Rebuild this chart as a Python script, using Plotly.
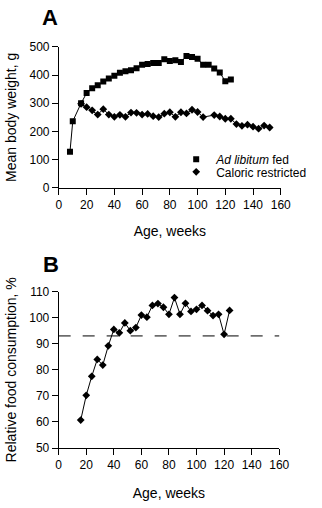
import plotly.graph_objects as go

# Panel A: mean body weight (g) by age (weeks)
adlib_weeks = [8, 10, 16, 20, 24, 28, 32, 36, 40, 44, 48, 52, 56, 60, 64, 68, 72,
               76, 80, 84, 88, 92, 96, 100, 104, 108, 112, 116, 120, 124]
adlib_weight = [128, 236, 300, 336, 353, 364, 377, 388, 397, 408, 413, 417, 424,
                436, 439, 443, 443, 456, 450, 452, 446, 467, 464, 458, 436, 436,
                423, 409, 378, 384]

cr_weeks = [16, 20, 24, 28, 32, 36, 40, 44, 48, 52, 56, 60, 64, 68, 72, 76, 80,
            84, 88, 92, 96, 100, 104, 112, 116, 120, 124, 128, 132, 136, 140,
            144, 148, 152]
cr_weight = [298, 286, 275, 260, 279, 260, 252, 259, 252, 267, 266, 260, 262,
             254, 251, 263, 268, 252, 268, 264, 277, 269, 251, 258, 253, 245,
             245, 226, 220, 224, 217, 210, 221, 214]

# Panel B: relative food consumption (%)
food_weeks = [16, 20, 24, 28, 32, 36, 40, 44, 48, 52, 56, 60, 64, 68, 72, 76,
              80, 84, 88, 92, 96, 100, 104, 108, 112, 116, 120, 124]
food_pct = [60.7, 70.2, 77.5, 84.0, 81.8, 89.2, 95.5, 94.2, 98.0, 95.0, 96.2,
            101.0, 100.2, 104.7, 105.4, 104.0, 101.3, 107.7, 101.3, 105.5,
            102.4, 103.2, 104.7, 102.7, 100.8, 101.3, 93.6, 102.8]
reference_level = 93

x_ticks = [0, 20, 40, 60, 80, 100, 120, 140, 160]
a_y_ticks = [0, 100, 200, 300, 400, 500]
b_y_ticks = [50, 60, 70, 80, 90, 100, 110]

tick_font = dict(family="Liberation Sans Narrow, Arial Narrow, Liberation Sans, Arial, sans-serif",
                 size=12, color="black")
title_font = dict(family="Liberation Sans, Arial, sans-serif", size=14, color="black")

fig = go.Figure()

line_style = dict(color="black", width=1)
square_marker = dict(symbol="square", size=6, color="black")
diamond_marker = dict(symbol="diamond", size=6, color="black")

fig.add_trace(go.Scatter(x=adlib_weeks, y=adlib_weight, mode="lines+markers",
                         line=line_style, marker=square_marker,
                         xaxis="x", yaxis="y", showlegend=False))
fig.add_trace(go.Scatter(x=cr_weeks, y=cr_weight, mode="lines+markers",
                         line=line_style, marker=diamond_marker,
                         xaxis="x", yaxis="y", showlegend=False))
# legend-only entries (marker symbol only)
fig.add_trace(go.Scatter(x=[None], y=[None], mode="markers", name="<i>Ad libitum</i> fed",
                         marker=square_marker, xaxis="x", yaxis="y", legend="legend"))
fig.add_trace(go.Scatter(x=[None], y=[None], mode="markers", name="Caloric restricted",
                         marker=diamond_marker, xaxis="x", yaxis="y", legend="legend2"))

fig.add_trace(go.Scatter(x=food_weeks, y=food_pct, mode="lines+markers",
                         line=line_style, marker=diamond_marker,
                         xaxis="x2", yaxis="y2", showlegend=False))

fig.add_shape(type="line", xref="x2 domain", yref="y2", x0=0, x1=1,
              y0=reference_level, y1=reference_level,
              line=dict(color="black", width=1, dash="12px,12px"))

axis_common = dict(showgrid=False, zeroline=False, showline=True, linecolor="black",
                   linewidth=1, ticks="outside", ticklen=6, tickwidth=1,
                   tickcolor="black", tickfont=tick_font)

fig.update_layout(
    width=322, height=508,
    margin=dict(l=50, r=10, t=46, b=48),
    paper_bgcolor="white", plot_bgcolor="white",
    xaxis=dict(axis_common, domain=[0.004, 0.999], range=[0, 160], tickvals=x_ticks,
               anchor="y",
               title=dict(text="Age, weeks", font=title_font, standoff=14)),
    yaxis=dict(axis_common, domain=[0.647, 0.998], range=[0, 500], tickvals=a_y_ticks,
               anchor="x",
               title=dict(text="Mean body weight, g", font=title_font, standoff=9)),
    xaxis2=dict(axis_common, domain=[0.003, 0.992], range=[0, 160], tickvals=x_ticks,
                anchor="y2",
                title=dict(text="Age, weeks", font=title_font, standoff=16)),
    yaxis2=dict(axis_common, domain=[0, 0.389], range=[50, 110], tickvals=b_y_ticks,
                anchor="x2",
                title=dict(text="Relative food consumption, %", font=title_font, standoff=9)),
    legend=dict(x=0.53, y=0.718, xanchor="left", yanchor="middle",
                bgcolor="rgba(0,0,0,0)", font=dict(family=tick_font["family"], size=12, color="black"),
                itemwidth=30),
    legend2=dict(x=0.53, y=0.687, xanchor="left", yanchor="middle",
                 bgcolor="rgba(0,0,0,0)", font=dict(family=tick_font["family"], size=12, color="black"),
                 itemwidth=30),
    annotations=[
        dict(text="<b>A</b>", x=-0.035, y=1.070, xref="paper", yref="paper",
             xanchor="center", yanchor="middle", showarrow=False,
             font=dict(family="Liberation Sans, Arial, sans-serif", size=22, color="black")),
        dict(text="<b>B</b>", x=-0.03, y=0.4565, xref="paper", yref="paper",
             xanchor="center", yanchor="middle", showarrow=False,
             font=dict(family="Liberation Sans, Arial, sans-serif", size=22, color="black")),
    ],
)

fig.write_html("out.html")
